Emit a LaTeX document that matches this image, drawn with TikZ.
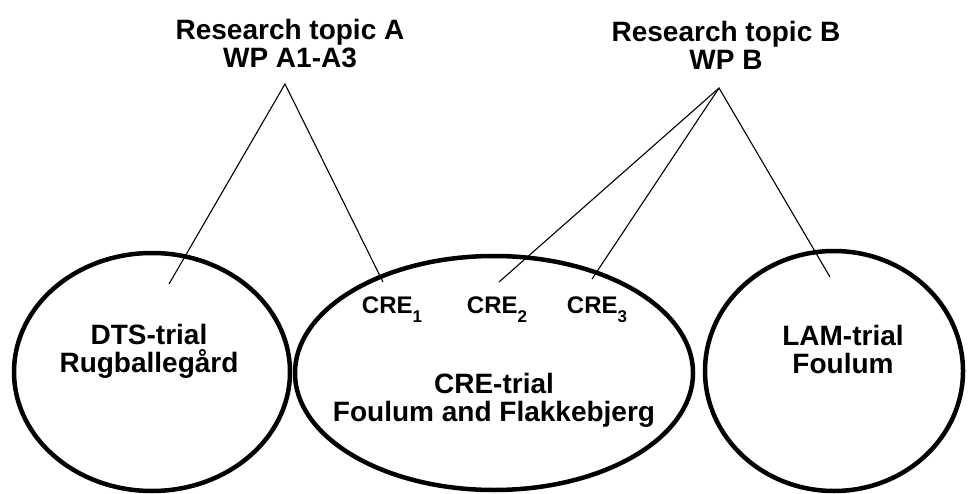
\documentclass[tikz,border=0pt]{standalone}
\usepackage{fontspec}
\setmainfont{Liberation Sans}
\usetikzlibrary{shapes.geometric}
\newcommand{\crenum}[1]{CRE\raisebox{-9pt}{\fontsize{17}{17}\selectfont #1}}
\begin{document}
\begin{tikzpicture}[x=1pt, y=-1pt,
    field/.style={draw, ellipse, line width=4.5pt, inner sep=0pt},
    heading/.style={align=center, font=\fontsize{28}{28}\selectfont\bfseries},
    crelabel/.style={anchor=base, font=\fontsize{24}{24}\selectfont\bfseries},
    link/.style={line width=1.1pt}]
    \useasboundingbox (0,0) rectangle (968,494);
    % Trial fields
    \node[field, minimum width=276, minimum height=238] (dts) at (152,372) {};
    \node[field, minimum width=398, minimum height=234] (cre) at (494,373) {};
    \node[field, minimum width=258, minimum height=240] (lam) at (834,371) {};
    % Texts
    \node[heading] (topicA) at (290,44) {Research topic A\\WP A1-A3};
    \node[heading] (topicB) at (726,45) {Research topic B\\WP B};
    \node[heading] (dtsname) at (149,351) {DTS-trial\\Rugballegård};
    \node[heading] (crename) at (494,400) {CRE-trial\\Foulum and Flakkebjerg};
    \node[heading] (lamname) at (843,349) {LAM-trial\\Foulum};
    \node[crelabel] (creA) at (392,313) {\crenum{1}};
    \node[crelabel] (creB) at (497,313) {\crenum{2}};
    \node[crelabel] (creC) at (597,313) {\crenum{3}};
    % Link ends
    \coordinate (apexA) at (285,84);
    \coordinate (apexB) at (719,88);
    \coordinate (dtsend) at (169,284);
    \coordinate (creAend) at (383,282);
    \coordinate (creBend) at (499,282);
    \coordinate (creCend) at (592,279);
    \coordinate (lamend) at (830,277);
    % Links
    \draw[link] (dtsend) -- (apexA) -- (creAend);
    \draw[link] (creBend) -- (apexB) -- (lamend);
    \draw[link] (apexB) -- (creCend);
\end{tikzpicture}
\end{document}
